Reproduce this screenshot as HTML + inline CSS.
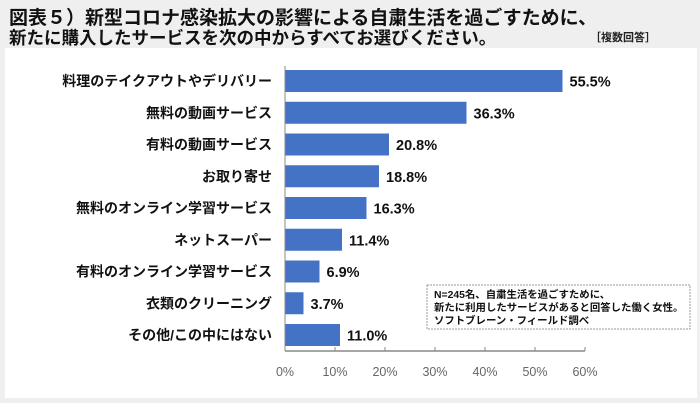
<!DOCTYPE html>
<html><head><meta charset="utf-8"><style>
body{margin:0;width:700px;height:403px;background:#efefef;font-family:"Liberation Sans","Noto Sans CJK JP",sans-serif;overflow:hidden;position:relative}
.t{position:absolute;left:9px;font-weight:bold;color:#111;white-space:nowrap}
#box{position:absolute;left:5px;top:48px;width:692px;height:350px;background:#fff}
</style></head><body>
<div class="t" style="top:3px;font-size:19px">図表５）新型コロナ感染拡大の影響による自粛生活を過ごすために、</div>
<div class="t" style="top:25px;font-size:17.5px">新たに購入したサービスを次の中からすべてお選びください。</div>
<div style="position:absolute;left:590px;top:29px;font-size:11px;font-weight:bold;color:#222">［複数回答］</div>
<div id="box"></div>
<svg id="c" width="700" height="403" style="position:absolute;left:0;top:0"></svg>
<script>
const categories=["料理のテイクアウトやデリバリー","無料の動画サービス","有料の動画サービス","お取り寄せ","無料のオンライン学習サービス","ネットスーパー","有料のオンライン学習サービス","衣類のクリーニング","その他/この中にはない"];
const values=[55.5,36.3,20.8,18.8,16.3,11.4,6.9,3.7,11.0];
const ticks=[0,10,20,30,40,50,60];
const ns="http://www.w3.org/2000/svg",svg=document.getElementById('c');
const x=v=>285+v*5, y=i=>81+i*31.75;
function mk(t,a,txt){const e=document.createElementNS(ns,t);for(const k in a)e.setAttribute(k,a[k]);if(txt!=null)e.textContent=txt;svg.appendChild(e);return e;}
categories.forEach((c,i)=>{
 let r=mk('rect',{x:x(0),y:y(i)-11,width:x(values[i])-x(0),height:22,fill:'#4472c4'});
 
 
 let l=mk('text',{x:272,y:y(i)+5,'text-anchor':'end','font-size':14,'font-weight':'bold',fill:'#111'},c);
 
 
 let v=mk('text',{x:x(values[i])+7,y:y(i)+5.5,'font-size':14.5,'font-weight':'bold',fill:'#111'},values[i].toFixed(1)+'%');
 
 
});
let ax=mk('line',{x1:x(0),x2:x(0),y1:66,y2:351,stroke:'#888','stroke-width':1});


let xl=mk('line',{x1:x(0),x2:x(60),y1:351,y2:351,stroke:'#888','stroke-width':1.5});


ticks.forEach(t=>{
 let tk=mk('line',{x1:x(t),x2:x(t),y1:347,y2:351,stroke:'#888'});
 
 
 let tl=mk('text',{x:x(t),y:376,'text-anchor':'middle','font-size':12.5,fill:'#666'},t+'%');
 
 
});
let nb=mk('rect',{x:427,y:285,width:263,height:44,fill:'#fff',stroke:'#999','stroke-dasharray':'2,1'});


["N=245名、自粛生活を過ごすために、","新たに利用したサービスがあると回答した働く女性。","ソフトブレーン・フィールド調べ"].forEach((s,i)=>{
 let n=mk('text',{x:434,y:298+i*13,'font-size':10.4,'font-weight':'bold',fill:'#111'},s);
 
 
});
</script>
</body></html>
